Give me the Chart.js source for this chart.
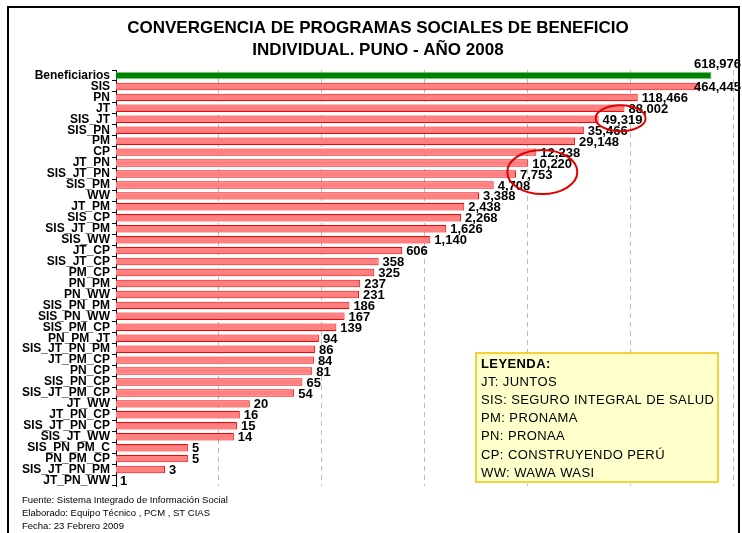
<!DOCTYPE html>
<html>
<head>
<meta charset="utf-8">
<script src="https://cdn.jsdelivr.net/npm/chart.js@4/dist/chart.umd.min.js"></script>
<style>
html, body { margin: 0; padding: 0; background: #fff; }
</style>
</head>
<body>
<canvas id="convChart" width="742" height="533"></canvas>
<script>
const categories = [
    "Beneficiarios", "SIS", "PN", "JT", "SIS_JT", "SIS_PN", "PM", "CP", "JT_PN",
    "SIS_JT_PN", "SIS_PM", "WW", "JT_PM", "SIS_CP", "SIS_JT_PM", "SIS_WW", "JT_CP",
    "SIS_JT_CP", "PM_CP", "PN_PM", "PN_WW", "SIS_PN_PM", "SIS_PN_WW", "SIS_PM_CP",
    "PN_PM_JT", "SIS_JT_PN_PM", "JT_PM_CP", "PN_CP", "SIS_PN_CP", "SIS_JT_PM_CP",
    "JT_WW", "JT_PN_CP", "SIS_JT_PN_CP", "SIS_JT_WW", "SIS_PN_PM_C", "PN_PM_CP",
    "SIS_JT_PN_PM", "JT_PN_WW"
];

const beneficiarios = [
    618976, 464445, 118466, 88002, 49319, 35466, 29148, 12238, 10220,
    7753, 4708, 3388, 2438, 2268, 1626, 1140, 606,
    358, 325, 237, 231, 186, 167, 139,
    94, 86, 84, 81, 65, 54,
    20, 16, 15, 14, 5, 5,
    3, 1
];

const decadeTicks = [1, 10, 100, 1000, 10000, 100000, 1000000];

const titleLines = [
    "CONVERGENCIA DE PROGRAMAS SOCIALES DE BENEFICIO",
    "INDIVIDUAL. PUNO - AÑO 2008"
];

const legendLines = [
    "LEYENDA:",
    "JT: JUNTOS",
    "SIS: SEGURO INTEGRAL DE SALUD",
    "PM: PRONAMA",
    "PN: PRONAA",
    "CP: CONSTRUYENDO PERÚ",
    "WW: WAWA WASI"
];

const footerLines = [
    "Fuente: Sistema Integrado de Información Social",
    "Elaborado: Equipo Técnico , PCM , ST CIAS",
    "Fecha: 23 Febrero 2009"
];

const FONT = '"Liberation Sans", Arial, sans-serif';

// white page + frame, title, legend box, footer, red circles
const decorations = {
    id: 'decorations',
    beforeDraw(chart) {
        const ctx = chart.ctx;
        ctx.save();
        ctx.fillStyle = '#fff';
        ctx.fillRect(0, 0, chart.width, chart.height);
        ctx.restore();
    },
    afterDraw(chart) {
        const ctx = chart.ctx;
        const xs = chart.scales.x, ys = chart.scales.y;
        ctx.save();

        ctx.strokeStyle = '#000';
        ctx.lineWidth = 2;
        ctx.strokeRect(8, 7, 731, 540);

        ctx.fillStyle = '#000';
        ctx.font = 'bold 17px ' + FONT;
        ctx.textAlign = 'center';
        ctx.textBaseline = 'middle';
        ctx.fillText(titleLines[0], 378, 28);
        ctx.fillText(titleLines[1], 378, 50);

        // legend box
        ctx.fillStyle = '#FFFFCC';
        ctx.fillRect(476, 353, 242, 129);
        ctx.strokeStyle = '#F2C200';
        ctx.lineWidth = 1.5;
        ctx.strokeRect(476, 353, 242, 129);
        ctx.fillStyle = '#000';
        ctx.textAlign = 'left';
        ctx.letterSpacing = '0.4px';
        legendLines.forEach((line, i) => {
            ctx.font = (i === 0 ? 'bold ' : '') + '13px ' + FONT;
            ctx.fillText(line, 481, 364 + i * 18.2);
        });

        // footer
        ctx.letterSpacing = '0px';
        ctx.font = '9.5px ' + FONT;
        footerLines.forEach((line, i) => ctx.fillText(line, 22, 500 + i * 13));

        // hand-drawn red circles
        ctx.strokeStyle = '#E00000';
        ctx.lineWidth = 2;
        ctx.beginPath();
        ctx.ellipse(xs.getPixelForValue(49319) + 22, ys.getPixelForValue(4) - 1, 25, 13, 0, 0, Math.PI * 2);
        ctx.stroke();
        ctx.beginPath();
        ctx.ellipse(xs.getPixelForValue(10220) + 14, ys.getPixelForValue(9) - 2, 35, 22, 0, 0, Math.PI * 2);
        ctx.stroke();

        ctx.restore();
    }
};

const valueLabels = {
    id: 'valueLabels',
    afterDatasetsDraw(chart) {
        const ctx = chart.ctx;
        const meta = chart.getDatasetMeta(0);
        ctx.save();
        ctx.font = 'bold 13px ' + FONT;
        ctx.fillStyle = '#000';
        ctx.textAlign = 'left';
        ctx.textBaseline = 'middle';
        meta.data.forEach((bar, i) => {
            const txt = beneficiarios[i].toLocaleString('en-US');
            const w = ctx.measureText(txt).width;
            let x = bar.x + 4;
            let y = bar.y + 1;
            if (x + w > 741) x = 741 - w;
            if (i === 0) y = bar.y - 11;
            ctx.fillText(txt, x, y);
        });
        ctx.restore();
    }
};

new Chart(document.getElementById('convChart'), {
    type: 'bar',
    data: {
        labels: categories,
        datasets: [{
            data: beneficiarios,
            backgroundColor: categories.map((c, i) => i === 0 ? '#008000' : '#FF8080'),
            borderColor: categories.map((c, i) => i === 0 ? '#7FD07F' : '#FF0000'),
            borderWidth: 1,
            barPercentage: 0.68,
            categoryPercentage: 1
        }]
    },
    options: {
        indexAxis: 'y',
        responsive: false,
        animation: false,
        layout: { padding: { left: 0, right: 9, top: 70, bottom: 47 } },
        plugins: {
            legend: { display: false },
            tooltip: { enabled: false },
            title: { display: false }
        },
        scales: {
            x: {
                type: 'logarithmic',
                min: 1,
                max: 1000000,
                afterBuildTicks: axis => { axis.ticks = decadeTicks.map(v => ({ value: v })); },
                afterFit: axis => { axis.height = 0; },
                ticks: { display: false },
                grid: { color: '#BDBDBD', lineWidth: 1, drawTicks: false },
                border: { display: false, dash: [5, 4] }
            },
            y: {
                afterFit: axis => { axis.width = 116; },
                grid: { offset: true, drawOnChartArea: false, tickLength: 4, color: '#000' },
                border: { color: '#000', width: 1 },
                ticks: {
                    autoSkip: false,
                    padding: 2,
                    color: '#000',
                    font: { family: FONT, size: 12, weight: 'bold' }
                }
            }
        }
    },
    plugins: [decorations, valueLabels]
});
</script>
</body>
</html>
